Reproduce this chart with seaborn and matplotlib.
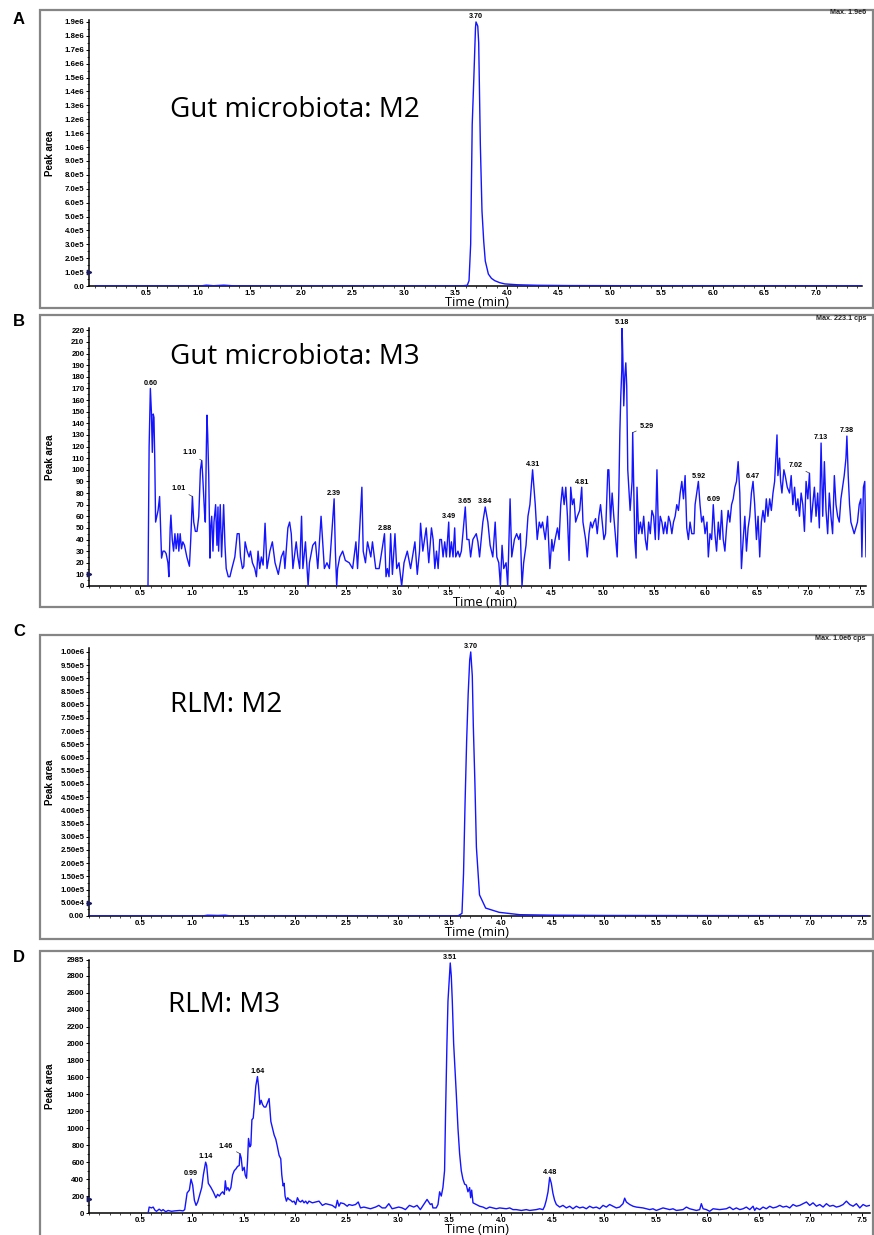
import numpy as np
import pandas as pd
import matplotlib
matplotlib.use("Agg")
import matplotlib.pyplot as plt
import seaborn as sns
from matplotlib.ticker import FixedLocator, MultipleLocator, FuncFormatter, AutoMinorLocator
from matplotlib.patches import Rectangle

# ---------------- data ----------------
# Panel A: Gut microbiota M2
a_time = [0.0, 1.02, 1.08, 1.15, 1.25, 1.33, 1.40, 3.55, 3.615, 3.632, 3.648, 3.663, 3.679,
          3.695, 3.70, 3.717, 3.726, 3.742, 3.758, 3.775, 3.79, 3.82, 3.85, 3.883, 3.93, 3.98,
          4.10, 4.30, 4.60, 5.20, 6.20, 7.45]
a_value = [0, 0, 6e3, 2e3, 6e3, 2e3, 0, 0, 5e3, 3.8e4, 3.0e5, 1.16e6, 1.5e6,
           1.86e6, 1.9e6, 1.87e6, 1.75e6, 1.02e6, 5.4e5, 3.2e5, 1.8e5, 8.6e4, 5.5e4, 3.8e4, 2.4e4, 1.5e4,
           9e3, 5e3, 3e3, 2e3, 1.2e3, 1e3]
a_labels = ["3.70"]
a_label_times = [3.70]

# Panel B: Gut microbiota M3
b_time = [0.574, 0.585, 0.597, 0.607, 0.616, 0.625, 0.632, 0.640, 0.648, 0.660, 0.672, 0.687, 0.697,
          0.706, 0.720, 0.735, 0.750, 0.768, 0.777, 0.790, 0.797, 0.810, 0.823, 0.836, 0.848, 0.864,
          0.874, 0.887, 0.900, 0.913, 0.929, 0.952, 0.977, 0.990, 1.006, 1.019, 1.035, 1.051, 1.068,
          1.084, 1.097, 1.106, 1.126, 1.132, 1.142, 1.148, 1.155, 1.165, 1.177, 1.184, 1.194, 1.206,
          1.216, 1.232, 1.245, 1.255, 1.261, 1.277, 1.290, 1.310, 1.323, 1.335, 1.355, 1.371, 1.390,
          1.419, 1.442, 1.461, 1.474, 1.493, 1.506, 1.519, 1.539, 1.558, 1.571, 1.590, 1.613, 1.629,
          1.645, 1.661, 1.677, 1.694, 1.713, 1.732, 1.760, 1.784, 1.810, 1.842, 1.871, 1.894, 1.906,
          1.935, 1.952, 1.968, 1.984, 2.016, 2.032, 2.050, 2.068, 2.081, 2.106, 2.132, 2.145, 2.177,
          2.203, 2.226, 2.258, 2.290, 2.315, 2.339, 2.385, 2.397, 2.410, 2.419, 2.440, 2.468, 2.494,
          2.532, 2.565, 2.597, 2.613, 2.655, 2.668, 2.690, 2.710, 2.742, 2.758, 2.790, 2.823, 2.875,
          2.890, 2.903, 2.919, 2.935, 2.952, 2.977, 2.994, 3.016, 3.042, 3.065, 3.097, 3.129, 3.171,
          3.194, 3.216, 3.226, 3.248, 3.281, 3.306, 3.332,
          3.348, 3.365, 3.381, 3.397, 3.413, 3.429, 3.445, 3.461, 3.477, 3.500, 3.510, 3.526, 3.542,
          3.558, 3.568, 3.590, 3.606, 3.623, 3.661, 3.677, 3.697, 3.713, 3.735, 3.768, 3.784, 3.800,
          3.832, 3.855, 3.881, 3.903, 3.929, 3.952, 3.968, 3.987, 4.003, 4.019, 4.035, 4.058, 4.074,
          4.097, 4.113, 4.139, 4.161, 4.181, 4.197, 4.213, 4.229, 4.252, 4.271, 4.290, 4.316, 4.342,
          4.361, 4.381, 4.397, 4.413, 4.439, 4.461, 4.484, 4.503, 4.516, 4.535, 4.558, 4.574, 4.590,
          4.606, 4.623, 4.639, 4.655, 4.671, 4.687, 4.703, 4.719, 4.735, 4.752, 4.774, 4.794, 4.806,
          4.832, 4.848, 4.865, 4.881, 4.897, 4.913, 4.929, 4.945, 4.961, 4.977, 4.994, 5.010, 5.026,
          5.048, 5.058, 5.074, 5.090, 5.106, 5.139, 5.155, 5.165, 5.174, 5.184, 5.187, 5.197, 5.203,
          5.213, 5.223, 5.232, 5.242, 5.252, 5.265, 5.284, 5.290, 5.310, 5.323, 5.332, 5.348, 5.365,
          5.381, 5.397, 5.413, 5.429, 5.445, 5.461, 5.477, 5.494, 5.510, 5.526, 5.542, 5.558, 5.574,
          5.590, 5.606, 5.623, 5.639, 5.655, 5.671, 5.687, 5.703, 5.719, 5.735, 5.752, 5.768, 5.784,
          5.800, 5.816, 5.832, 5.848, 5.865, 5.887, 5.897, 5.913, 5.929, 5.945, 5.961, 5.977, 5.994,
          6.013, 6.026, 6.042, 6.058, 6.074, 6.090, 6.106, 6.123, 6.139, 6.155, 6.171, 6.187, 6.203,
          6.219, 6.235, 6.252, 6.268, 6.284, 6.300, 6.316, 6.332, 6.348, 6.365, 6.381, 6.397, 6.413,
          6.429, 6.445, 6.461, 6.477, 6.494, 6.510, 6.526, 6.542, 6.558, 6.574, 6.590, 6.606, 6.623,
          6.639, 6.655, 6.671, 6.694, 6.703, 6.719, 6.729, 6.742, 6.761, 6.774, 6.794, 6.816, 6.832,
          6.848, 6.865, 6.881, 6.897, 6.913, 6.929, 6.945, 6.961, 6.977, 6.994, 7.010, 7.026, 7.042,
          7.058, 7.074, 7.090, 7.106, 7.123, 7.139, 7.155, 7.171, 7.187, 7.203, 7.219, 7.235, 7.252,
          7.268, 7.284, 7.300, 7.316, 7.332, 7.348, 7.365, 7.374, 7.387, 7.400, 7.413, 7.429, 7.445,
          7.461, 7.477, 7.494, 7.510, 7.520, 7.535, 7.548, 7.560]
b_value = [0, 120, 170, 150, 115, 148, 145, 108, 55, 60, 65, 77, 50,
           24, 30, 30, 28, 20, 8, 50, 61, 40, 30, 45, 32, 45,
           30, 45, 32, 38, 35, 25, 17, 40, 77, 55, 47, 47, 60,
           100, 108, 95, 60, 55, 120, 147, 130, 95, 24, 50, 60, 30,
           55, 70, 35, 68, 30, 70, 25, 70, 35, 15, 8, 8, 15,
           25, 45, 45, 25, 15, 17, 38, 30, 25, 30, 20, 15, 8,
           30, 15, 25, 18, 54, 15, 30, 38, 20, 10, 25, 30, 15,
           50, 55, 45, 15, 38, 25, 15, 60, 15, 38, 0, 20, 35,
           38, 15, 60, 15, 20, 15, 75, 30, 0, 15, 25, 30, 22,
           20, 15, 38, 15, 85, 30, 20, 38, 25, 38, 15, 15, 45,
           8, 15, 8, 45, 10, 45, 15, 20, 0, 20, 30, 15, 38,
           10, 30, 54, 30, 50, 20, 50,
           40, 15, 30, 15, 40, 40, 25, 38, 25, 55, 25, 38, 25,
           50, 25, 30, 25, 30, 68, 40, 40, 25, 40, 45, 38, 25,
           55, 68, 55, 35, 25, 55, 25, 20, 0, 35, 15, 20, 0,
           75, 25, 40, 45, 40, 45, 0, 20, 35, 60, 70, 100, 70,
           40, 55, 50, 55, 40, 60, 15, 40, 30, 40, 50, 40, 70,
           85, 70, 85, 60, 22, 85, 70, 75, 55, 60, 65, 85, 55,
           40, 25, 45, 55, 50, 55, 58, 45, 60, 70, 55, 40, 45,
           100, 100, 55, 80, 60, 25, 80, 132, 163, 186, 222, 186, 155,
           180, 192, 172, 100, 85, 65, 90, 132, 40, 24, 85, 45, 55,
           45, 60, 40, 31, 55, 45, 65, 60, 40, 100, 40, 60, 55,
           45, 55, 45, 60, 55, 45, 55, 60, 70, 65, 80, 90, 75,
           95, 50, 40, 55, 45, 45, 70, 80, 90, 70, 55, 60, 45,
           55, 25, 45, 40, 70, 45, 30, 55, 40, 65, 40, 30, 50,
           65, 55, 70, 75, 85, 90, 107, 80, 15, 40, 60, 30, 50,
           60, 80, 90, 70, 40, 60, 25, 55, 65, 55, 75, 60, 75,
           65, 80, 90, 130, 95, 110, 90, 80, 100, 95, 85, 80, 95,
           70, 85, 65, 75, 60, 80, 70, 47, 90, 75, 97, 55, 70,
           85, 60, 80, 50, 123, 60, 107, 65, 45, 80, 60, 45, 95,
           70, 60, 55, 75, 85, 95, 110, 129, 95, 70, 55, 50, 45,
           50, 55, 70, 75, 25, 85, 90, 25]
b_labels = ["0.60", "1.01", "1.10", "2.39", "2.88", "3.49", "3.65", "3.84", "4.31", "4.81",
            "5.18", "5.29", "5.92", "6.09", "6.47", "7.02", "7.13", "7.38"]
b_label_times = [0.60, 1.01, 1.10, 2.39, 2.88, 3.49, 3.65, 3.84, 4.31, 4.81,
                 5.18, 5.29, 5.92, 6.09, 6.47, 7.02, 7.13, 7.38]

# Panel C: RLM M2
c_time = [0.0, 1.10, 1.15, 1.25, 1.32, 1.38, 3.58, 3.62, 3.635, 3.65, 3.665, 3.68, 3.695, 3.705,
          3.72, 3.73, 3.745, 3.76, 3.79, 3.85, 3.98, 4.18, 4.50, 5.00, 6.00, 7.56]
c_value = [0, 0, 3e3, 2e3, 3e3, 0, 0, 1e4, 1.6e5, 4.3e5, 6.6e5, 8.4e5, 9.7e5, 1.0e6,
           9.1e5, 7.2e5, 5.1e5, 2.6e5, 8e4, 3e4, 1.4e4, 5e3, 3e3, 2e3, 1.5e3, 1e3]
c_labels = ["3.70"]
c_label_times = [3.70]

# Panel D: RLM M3
d_time = [0.574, 0.584, 0.606, 0.623, 0.639, 0.655, 0.681, 0.703, 0.719, 0.745, 0.768, 0.800, 0.832,
          0.881, 0.913, 0.929, 0.952, 0.974, 0.990, 1.006, 1.023, 1.039, 1.055, 1.071, 1.094, 1.110,
          1.132, 1.142, 1.158, 1.184, 1.206, 1.232, 1.248, 1.265, 1.281, 1.297, 1.313, 1.323, 1.335,
          1.348, 1.361, 1.377, 1.394, 1.410, 1.426, 1.442, 1.458, 1.465, 1.477, 1.490, 1.506, 1.516,
          1.529, 1.539, 1.548, 1.561, 1.571, 1.581, 1.594, 1.606, 1.619, 1.635, 1.645, 1.658, 1.671,
          1.684, 1.700, 1.716, 1.732, 1.748, 1.765, 1.781, 1.797, 1.813, 1.829, 1.845, 1.861, 1.871,
          1.884, 1.894, 1.903, 1.916, 1.929, 1.942, 1.958, 1.974, 1.990, 2.006, 2.023, 2.039, 2.055,
          2.071, 2.087, 2.103, 2.119, 2.135, 2.168, 2.200, 2.232, 2.265, 2.297, 2.329, 2.361, 2.394,
          2.410, 2.426, 2.442, 2.474, 2.506, 2.523, 2.555, 2.587, 2.613, 2.635, 2.668, 2.700, 2.732,
          2.781, 2.813, 2.845, 2.877, 2.910, 2.942, 2.974, 3.006, 3.039, 3.071, 3.110, 3.152, 3.184,
          3.216, 3.248, 3.281, 3.313, 3.329, 3.338, 3.370, 3.387, 3.403, 3.419, 3.435, 3.451, 3.461,
          3.474, 3.484, 3.494, 3.506, 3.516, 3.526, 3.539, 3.552, 3.565, 3.581, 3.597, 3.613, 3.629,
          3.646, 3.662, 3.678, 3.694, 3.704, 3.714, 3.727, 3.759, 3.791, 3.824, 3.856, 3.888, 3.921,
          3.953, 3.985, 4.050, 4.083, 4.115, 4.147, 4.196, 4.244, 4.277, 4.341, 4.374, 4.406, 4.422,
          4.438, 4.455, 4.471, 4.487, 4.503, 4.519, 4.536, 4.568, 4.600, 4.633, 4.665, 4.697, 4.730,
          4.762, 4.794, 4.827, 4.859, 4.892, 4.924, 4.956, 4.989, 5.021, 5.053, 5.086, 5.118, 5.150,
          5.183, 5.199, 5.215, 5.248, 5.280, 5.312, 5.377, 5.442, 5.474, 5.506, 5.571, 5.604, 5.636,
          5.668, 5.701, 5.765, 5.798, 5.830, 5.862, 5.895, 5.927, 5.943, 5.960, 5.992, 6.024, 6.057,
          6.121, 6.186, 6.218, 6.251, 6.283, 6.316, 6.348, 6.380, 6.413, 6.445, 6.461, 6.477, 6.510,
          6.542, 6.574, 6.607, 6.639, 6.672, 6.704, 6.736, 6.769, 6.801, 6.833, 6.866, 6.898, 6.930,
          6.963, 6.995, 7.027, 7.060, 7.092, 7.125, 7.157, 7.189, 7.222, 7.254, 7.286, 7.319, 7.351,
          7.383, 7.416, 7.448, 7.481, 7.513, 7.545, 7.578]
d_value = [0, 70, 60, 70, 35, 20, 45, 25, 40, 15, 30, 20, 25,
           30, 25, 40, 236, 270, 400, 330, 150, 90, 130, 200, 300, 450,
           600, 560, 350, 300, 250, 180, 220, 200, 230, 250, 220, 380, 270,
           300, 260, 300, 450, 500, 520, 550, 560, 700, 650, 500, 540, 450,
           410, 620, 880, 780, 800, 1100, 1120, 1300, 1500, 1610, 1500, 1280, 1330,
           1280, 1250, 1250, 1300, 1350, 1080, 1000, 920, 870, 780, 680, 640, 450,
           320, 350, 200, 140, 180, 160, 150, 130, 140, 100, 180, 140, 130,
           150, 120, 140, 110, 140, 120, 130, 140, 90, 110, 100, 90, 60,
           150, 80, 120, 110, 80, 100, 90, 100, 130, 60, 70, 60, 50,
           70, 90, 60, 60, 110, 50, 60, 70, 60, 40, 90, 70, 90,
           40, 100, 160, 100, 110, 60, 60, 100, 250, 200, 300, 500, 1200,
           2000, 2500, 2700, 2950, 2800, 2500, 2000, 1700, 1400, 1000, 700, 500, 400,
           340, 330, 250, 300, 180, 270, 120, 100, 80, 70, 50, 70, 60,
           50, 60, 50, 60, 40, 40, 30, 40, 30, 40, 50, 40, 80,
           150, 250, 420, 350, 230, 150, 100, 70, 90, 60, 80, 50, 80,
           60, 70, 50, 80, 60, 70, 50, 90, 70, 100, 80, 60, 70,
           110, 175, 130, 100, 80, 70, 60, 40, 50, 30, 60, 50, 40,
           50, 30, 40, 70, 50, 40, 30, 40, 110, 50, 40, 20, 50,
           40, 50, 70, 40, 60, 40, 50, 70, 40, 80, 30, 60, 40,
           70, 50, 80, 60, 70, 90, 70, 80, 60, 100, 80, 90, 110,
           130, 90, 120, 80, 100, 70, 110, 80, 90, 70, 80, 100, 140,
           100, 80, 110, 60, 100, 80, 90]
d_labels = ["0.99", "1.14", "1.46", "1.64", "3.51", "4.48"]
d_label_times = [0.99, 1.14, 1.46, 1.64, 3.51, 4.48]

# tick values
a_yticks = [i * 1e5 for i in range(20)]
b_yticks = list(range(0, 230, 10))
c_yticks = [i * 5e4 for i in range(21)]
d_yticks = [0, 200, 400, 600, 800, 1000, 1200, 1400, 1600, 1800, 2000, 2200, 2400, 2600, 2800, 2985]
x_ticks = [0.5, 1.0, 1.5, 2.0, 2.5, 3.0, 3.5, 4.0, 4.5, 5.0, 5.5, 6.0, 6.5, 7.0, 7.5]

# ---------------- style ----------------
sns.set_theme(style="white")
plt.rcParams['font.family'] = ['Liberation Sans', 'DejaVu Sans']
plt.rcParams['axes.facecolor'] = 'white'
plt.rcParams['text.color'] = 'black'
plt.rcParams['xtick.color'] = 'black'
plt.rcParams['ytick.color'] = 'black'
plt.rcParams['axes.labelcolor'] = 'black'

W, H = 874, 1235
fig = plt.figure(figsize=(W / 100, H / 100), dpi=100)
fig.patch.set_facecolor('white')


def fx(px):
    return px / W


def fy(py):
    return 1 - py / H


def sci1(v, pos=None):
    if v == 0:
        return "0.0"
    e = int(np.floor(np.log10(v) + 1e-9))
    return f"{v / 10 ** e:.1f}e{e}"


def sci2(v, pos=None):
    if v == 0:
        return "0.00"
    e = int(np.floor(np.log10(v) + 1e-9))
    return f"{v / 10 ** e:.2f}e{e}"


def intfmt(v, pos=None):
    return f"{int(round(v))}"


LINE = '#1414ff'

panels = [
    dict(letter='A', t=a_time, v=a_value, labels=a_labels, ltimes=a_label_times,
         frame=(40, 10, 308), axpx=(89, 862, 20, 286), xlim=(-0.06, 7.45), ylim=(0, 1.914e6),
         yticks=a_yticks, fmt=sci1, title='Gut microbiota: M2', title_xy=(170, 110),
         maxtxt='Max. 1.9e6', max_xy=(830, 13), marker=1e5, xlab=(477, 302.5), letter_y=19,
         offsets={}),
    dict(letter='B', t=b_time, v=b_value, labels=b_labels, ltimes=b_label_times,
         frame=(40, 315, 607), axpx=(89, 866, 328, 586), xlim=(0, 7.56), ylim=(0, 222),
         yticks=b_yticks, fmt=intfmt, title='Gut microbiota: M3', title_xy=(170, 357),
         maxtxt='Max. 223.1 cps', max_xy=(816, 319), marker=10, xlab=(485, 602.5), letter_y=322,
         offsets={"1.01": (-10, 1), "1.10": (-9, 1), "5.29": (10, 0), "7.02": (-10, 1)}),
    dict(letter='C', t=c_time, v=c_value, labels=c_labels, ltimes=c_label_times,
         frame=(40, 635, 939), axpx=(89, 870, 648, 916), xlim=(0, 7.58), ylim=(0, 1.015e6),
         yticks=c_yticks, fmt=sci2, title='RLM: M2', title_xy=(170, 705),
         maxtxt='Max. 1.0e6 cps', max_xy=(815, 638), marker=5e4, xlab=(477, 932.5), letter_y=631,
         offsets={}),
    dict(letter='D', t=d_time, v=d_value, labels=d_labels, ltimes=d_label_times,
         frame=(40, 951, 1260), axpx=(89, 870, 960, 1213), xlim=(0, 7.58), ylim=(0, 2985),
         yticks=d_yticks, fmt=intfmt, title='RLM: M3', title_xy=(168, 1005),
         maxtxt=None, max_xy=None, marker=160, xlab=(477, 1229.5), letter_y=957,
         offsets={"1.46": (-10, 1)}),
]

for p in panels:
    # outer gray frame
    x0, ytop, ybot = p['frame']
    fig.add_artist(Rectangle((fx(x0), fy(ybot)), fx(873) - fx(x0), fy(ytop) - fy(ybot),
                             transform=fig.transFigure, fill=False, ec='#858585', lw=1.6,
                             zorder=0))
    l, r, t, b = p['axpx']
    ax = fig.add_axes([fx(l), fy(b), fx(r) - fx(l), fy(t) - fy(b)])
    df = pd.DataFrame({'time': p['t'], 'value': p['v']})
    sns.lineplot(data=df, x='time', y='value', ax=ax, color=LINE, lw=1.0,
                 estimator=None, sort=False, zorder=3)
    ax.set_xlim(*p['xlim'])
    ax.set_ylim(*p['ylim'])
    ax.set_xlabel('')
    ax.set_ylabel('')
    for s in ['top', 'right']:
        ax.spines[s].set_visible(False)
    for s in ['left', 'bottom']:
        ax.spines[s].set_color('black')
        ax.spines[s].set_linewidth(1.1)
    ax.xaxis.set_major_locator(FixedLocator(x_ticks))
    ax.xaxis.set_major_formatter(FuncFormatter(lambda v, pos: f"{v:.1f}"))
    ax.xaxis.set_minor_locator(MultipleLocator(0.1))
    ax.yaxis.set_major_locator(FixedLocator(p['yticks']))
    ax.yaxis.set_major_formatter(FuncFormatter(p['fmt']))
    ax.yaxis.set_minor_locator(AutoMinorLocator(2))
    ax.tick_params(axis='both', which='major', direction='out', length=2.5, width=0.7,
                   color='black', labelcolor='black', labelsize=5.7, pad=0.8,
                   left=True, bottom=True)
    ax.tick_params(axis='x', which='major', pad=0.4)
    ax.tick_params(axis='both', which='minor', direction='out', length=1.3, width=0.5,
                   color='black', left=True, bottom=True)
    for lab in ax.get_xticklabels() + ax.get_yticklabels():
        lab.set_fontweight('bold')
    ax.grid(False)

    # small marker on the y axis
    ax.plot([0], [p['marker']], marker='>', ms=3.2, color='#1a1a60',
            transform=ax.get_yaxis_transform(), clip_on=False, zorder=5)

    # peak labels
    tt = np.asarray(p['t'])
    vv = np.asarray(p['v'])
    for txt, lt in zip(p['labels'], p['ltimes']):
        mask = np.abs(tt - lt) <= 0.025
        idx = np.where(mask)[0]
        k = idx[np.argmax(vv[idx])]
        px, py = tt[k], vv[k]
        dx, dy = p['offsets'].get(txt, (0, 1.2))
        if txt in p['offsets']:
            ax.annotate(txt, xy=(px, py), xytext=(dx, dy + 2), textcoords='offset points',
                        ha='center', va='bottom', fontsize=5.2, fontweight='bold',
                        arrowprops=dict(arrowstyle='-', lw=0.5, color='#333333',
                                        shrinkA=0, shrinkB=0), zorder=6, annotation_clip=False)
        else:
            ax.annotate(txt, xy=(px, py), xytext=(dx, dy), textcoords='offset points',
                        ha='center', va='bottom', fontsize=5.2, fontweight='bold',
                        zorder=6, annotation_clip=False)

    # y label
    fig.text(fx(50), fy((t + b) / 2), 'Peak area', rotation=90, ha='center', va='center',
             fontsize=7, fontweight='bold', color='black')
    # x label
    fig.text(fx(p['xlab'][0]), fy(p['xlab'][1]), 'Time (min)', ha='center', va='center',
             fontsize=9.4, family=['Open Sans', 'DejaVu Sans'], color='black')
    # panel title
    fig.text(fx(p['title_xy'][0]), fy(p['title_xy'][1]), p['title'], ha='left', va='center',
             fontsize=20, family=['Open Sans', 'DejaVu Sans'], color='black')
    # panel letter
    fig.text(fx(19), fy(p['letter_y']), p['letter'], ha='center', va='center',
             fontsize=12, fontweight='bold', color='black')
    # max text
    if p['maxtxt']:
        fig.text(fx(p['max_xy'][0]), fy(p['max_xy'][1]), p['maxtxt'], ha='left', va='center',
                 fontsize=5.2, fontweight='bold', color='#222222')

fig.savefig('out.png', dpi=100, facecolor='white')
